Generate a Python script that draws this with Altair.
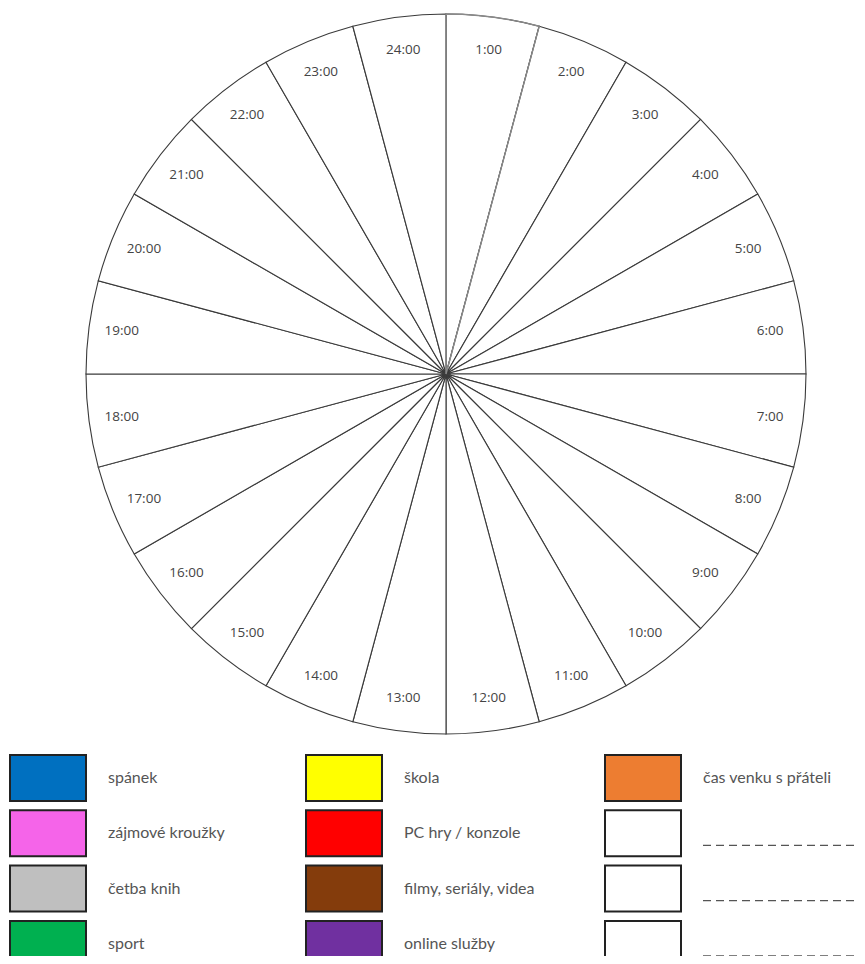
import altair as alt
import pandas as pd

# ---- data ----
hour_labels = ["1:00", "2:00", "3:00", "4:00", "5:00", "6:00", "7:00", "8:00",
               "9:00", "10:00", "11:00", "12:00", "13:00", "14:00", "15:00", "16:00",
               "17:00", "18:00", "19:00", "20:00", "21:00", "22:00", "23:00", "24:00"]
hour_share = [1, 1, 1, 1, 1, 1, 1, 1, 1, 1, 1, 1,
              1, 1, 1, 1, 1, 1, 1, 1, 1, 1, 1, 1]

legend_names = ["spánek", "zájmové kroužky", "četba knih", "sport",
                "škola", "PC hry / konzole", "filmy, seriály, videa", "online služby",
                "čas venku s přáteli", "", "", ""]
legend_colors = ["#0070C0", "#F564E9", "#BFBFBF", "#00B050",
                 "#FFFF00", "#FF0000", "#843C0C", "#7030A0",
                 "#ED7D31", "#FFFFFF", "#FFFFFF", "#FFFFFF"]
legend_col = [0, 0, 0, 0, 1, 1, 1, 1, 2, 2, 2, 2]
legend_row = [0, 1, 2, 3, 0, 1, 2, 3, 0, 1, 2, 3]
blank_slot = [False, False, False, False, False, False, False, False, False, True, True, True]

# ---- layout constants ----
W, H = 849, 948
CX, CY, R = 438, 366, 360

pie_df = pd.DataFrame({"label": hour_labels, "v": hour_share,
                       "idx": list(range(len(hour_labels)))})
leg_df = pd.DataFrame({"name": legend_names, "color": legend_colors,
                       "col": legend_col, "row": legend_row, "blank": blank_slot})

xs = alt.Scale(domain=[0, W], range=[0, W], nice=False, zero=False)
ys = alt.Scale(domain=[0, H], range=[0, H], nice=False, zero=False)

pie = alt.Chart(pie_df).mark_arc(
    outerRadius=R, fill="white", stroke="#3a3a3a", strokeWidth=1.1
).encode(
    theta=alt.Theta("v:Q", stack=True),
    order=alt.Order("idx:Q"),
    x=alt.value(CX), y=alt.value(CY),
)

ring = alt.Chart(pd.DataFrame({"v": [1]})).mark_arc(
    outerRadius=R, fillOpacity=0, stroke="#8a8a8a", strokeWidth=1.4
).encode(theta=alt.Theta("v:Q"), x=alt.value(CX), y=alt.value(CY))

labels = alt.Chart(pie_df).mark_text(
    radius=327, fontSize=13.5, font="Open Sans", color="#444444"
).encode(
    theta=alt.Theta("v:Q", stack=True),
    order=alt.Order("idx:Q"),
    text="label:N",
    x=alt.value(CX), y=alt.value(CY),
)

leg_base = alt.Chart(leg_df).transform_calculate(
    x0="[2, 298, 597][datum.col]",
    y0="747 + datum.row * 55.3",
).transform_calculate(
    x1="datum.x0 + 76",
    y1="datum.y0 + 46",
    tx="datum.x0 + 98",
    ty="datum.y0 + 23",
    ly="datum.y0 + 35",
    lx2="datum.x0 + 270",
)

boxes = leg_base.mark_rect(stroke="#222222", strokeWidth=2).encode(
    x=alt.X("x0:Q", scale=xs, axis=None),
    x2="x1:Q",
    y=alt.Y("y0:Q", scale=ys, axis=None),
    y2="y1:Q",
    fill=alt.Fill("color:N", scale=None),
)

texts = leg_base.mark_text(
    align="left", baseline="middle", fontSize=16, font="Lato", color="#555555"
).encode(
    x=alt.X("tx:Q", scale=xs, axis=None),
    y=alt.Y("ty:Q", scale=ys, axis=None),
    text="name:N",
)

dashes = leg_base.transform_filter("datum.blank").mark_rule(
    color="#555555", strokeWidth=1.3, strokeDash=[8, 5]
).encode(
    x=alt.X("tx:Q", scale=xs, axis=None),
    x2="lx2:Q",
    y=alt.Y("ly:Q", scale=ys, axis=None),
)

chart = alt.layer(pie, ring, labels, boxes, texts, dashes).properties(
    width=W, height=H, autosize=alt.AutoSizeParams(type="none"), padding=0
).configure_view(strokeWidth=0)

chart.save("out.html", embed_options={"renderer": "svg", "actions": False})
